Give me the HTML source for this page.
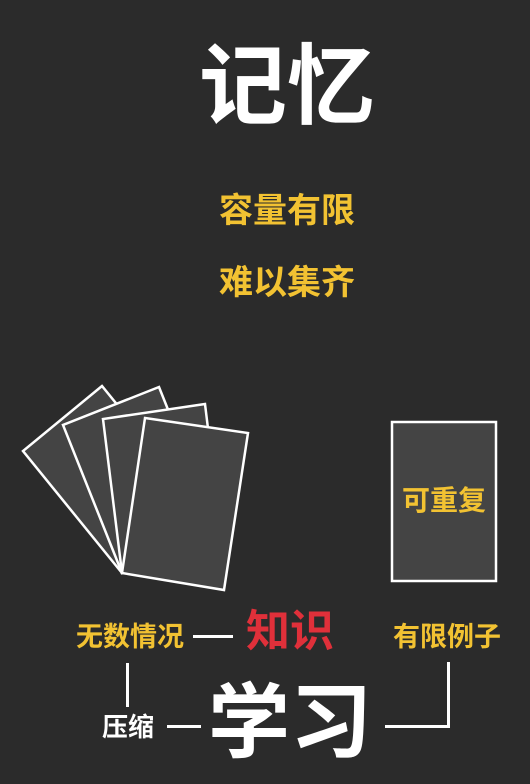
<!DOCTYPE html>
<html><head><meta charset="utf-8"><style>
html,body{margin:0;padding:0;}
body{width:530px;height:784px;background:#2b2b2b;position:relative;overflow:hidden;font-family:"Liberation Sans","Noto Sans CJK SC",sans-serif;font-weight:bold;}
.t{position:absolute;line-height:1;white-space:nowrap;text-align:center;}
.y{color:#f2c232;}
.w{color:#fff;}
.ln{position:absolute;background:#fff;}
</style></head><body>
<div class="t w" style="left:187px;top:43px;width:200px;font-size:88px;">记忆</div>
<div class="t y" style="left:187px;top:194px;width:200px;font-size:34px;">容量有限</div>
<div class="t y" style="left:187px;top:266px;width:200px;font-size:34px;">难以集齐</div>
<svg width="530" height="784" style="position:absolute;left:0;top:0">
<g fill="#444" stroke="#fff" stroke-width="2.5" stroke-linejoin="miter">
<polygon points="102,386 23,451 122,573 201,508"/>
<polygon points="159,387 63,425 122,573 218,535"/>
<polygon points="205,404 103,419 122,573 224,559"/>
<polygon points="145,418 248,433 224,590 122,573"/>
<rect x="392" y="422" width="104" height="159"/>
</g>
</svg>
<div class="t y" style="left:394px;top:487px;width:100px;font-size:28px;">可重复</div>
<div class="t y" style="left:70px;top:624px;width:120px;font-size:27px;">无数情况</div>
<div class="ln" style="left:193px;top:635px;width:40px;height:3px;"></div>
<div class="t" style="left:240px;top:610px;width:100px;font-size:44px;color:#e0303a;">知识</div>
<div class="t y" style="left:387px;top:624px;width:120px;font-size:27px;">有限例子</div>
<div class="ln" style="left:126px;top:663px;width:3px;height:44px;"></div>
<div class="t w" style="left:98px;top:714px;width:60px;font-size:26px;">压缩</div>
<div class="ln" style="left:167px;top:725px;width:34px;height:3px;"></div>
<div class="t w" style="left:200px;top:683px;width:180px;font-size:82px;">学习</div>
<div class="ln" style="left:385px;top:725px;width:65px;height:3px;"></div>
<div class="ln" style="left:447px;top:662px;width:3px;height:66px;"></div>
</body></html>
